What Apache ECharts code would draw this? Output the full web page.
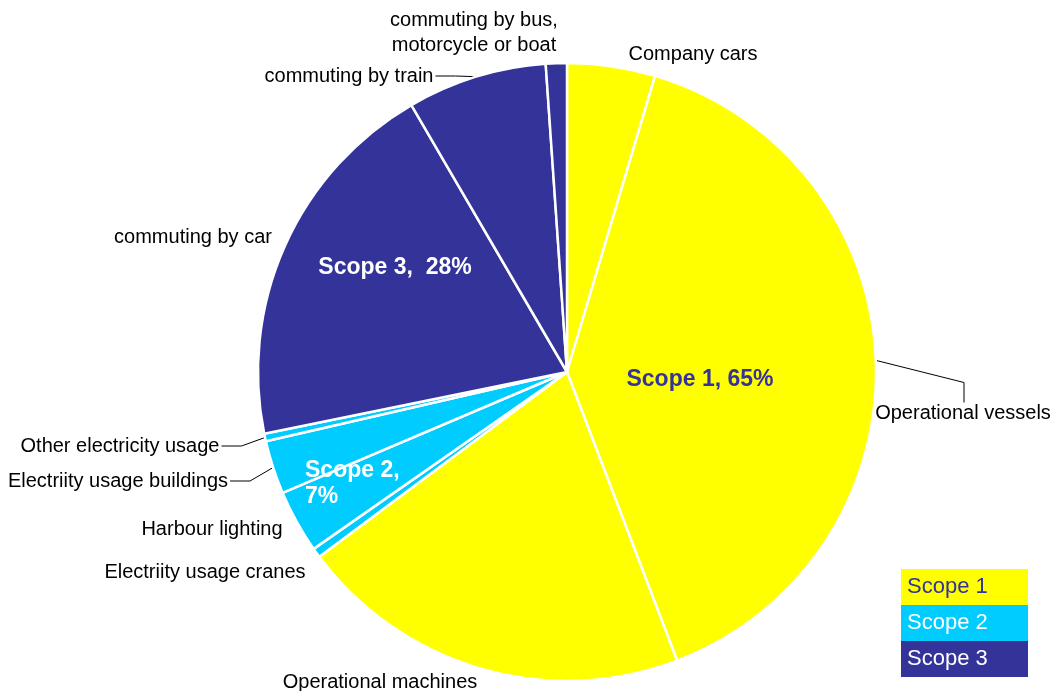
<!DOCTYPE html>
<html><head><meta charset="utf-8">
<script src="https://cdn.jsdelivr.net/npm/echarts@6/dist/echarts.min.js"></script>
<style>html,body{margin:0;padding:0;background:#fff}#c{width:1054px;height:691px}</style>
</head><body><div id="c"></div>
<script>
// ---- data ----
const categories = ['Company cars','Operational vessels','Operational machines','Electriity usage cranes','Harbour lighting','Electriity usage buildings','Other electricity usage','commuting by car','commuting by train','commuting by bus,\nmotorcycle or boat'];
const values = [4.6, 39.6, 20.6, 0.5, 3.3, 2.8, 0.4, 19.8, 7.3, 1.1];
const categoryScope = [0, 0, 0, 1, 1, 1, 1, 2, 2, 2];
const scopes = ['Scope 1', 'Scope 2', 'Scope 3'];

// ---- styles / layout ----
const scopeColors = ['#FFFF00', '#00CCFF', '#333399'];
const scopeTextColors = ['#333399', '#FFFFFF', '#FFFFFF'];
const scopeTotals = scopes.map((s, i) => values.reduce((a, v, j) => a + (categoryScope[j] === i ? v : 0), 0));
const FONT = "'Liberation Sans', Arial, sans-serif";
const catLabelPos = [[693,54],[963,413],[380,682],[205,572],[212,529],[118,481],[120,446],[193,237],[349,76],[474,33]];
const catLine = [null,'top',null,null,null,'right','right',null,'right',null];
const scopeLabelPos = [[700,380,'center'],[305,484,'left'],[395,268,'center']];
const scopeSep = [', ', ',\n', ',  '];

const chart = echarts.init(document.getElementById('c'), null, {renderer: 'canvas'});
chart.setOption({
  animation: false,
  backgroundColor: '#fff',
  series: [{
    type: 'pie',
    center: [567, 372],
    radius: 309,
    startAngle: 90,
    clockwise: true,
    avoidLabelOverlap: false,
    silent: true,
    itemStyle: {borderColor: '#fff', borderWidth: 2.5},
    label: {show: true, position: 'outside', color: '#000', fontSize: 20, fontFamily: FONT, lineHeight: 25},
    labelLine: {show: true, length: 10, length2: 20, lineStyle: {color: '#000', width: 1}},
    labelLayout: function (p) {
      const pos = catLabelPos[p.dataIndex];
      const res = {x: pos[0], y: pos[1], align: 'center', verticalAlign: 'middle'};
      const mode = catLine[p.dataIndex];
      if (mode && p.labelLinePoints) {
        const start = p.labelLinePoints[0];
        const w = p.labelRect.width, h = p.labelRect.height;
        if (mode === 'top') {
          const top = pos[1] - h / 2 + 2;
          res.labelLinePoints = [start, [pos[0] + 1, top - 20], [pos[0] + 1, top]];
        } else {
          const right = pos[0] + w / 2 + 2;
          res.labelLinePoints = [start, [right + 20, pos[1]], [right, pos[1]]];
        }
      }
      return res;
    },
    data: categories.map((n, i) => ({
      name: n, value: values[i],
      itemStyle: {color: scopeColors[categoryScope[i]]},
      labelLine: {show: !!catLine[i]}
    }))
  }, {
    type: 'pie',
    center: [567, 372],
    radius: 309,
    startAngle: 90,
    clockwise: true,
    avoidLabelOverlap: false,
    silent: true,
    itemStyle: {color: 'rgba(0,0,0,0)', borderWidth: 0},
    label: {show: true, position: 'inside', fontSize: 23, fontWeight: 'bold', fontFamily: FONT, lineHeight: 26,
      formatter: p => p.name + scopeSep[p.dataIndex] + Math.round(p.percent) + '%'},
    labelLine: {show: false},
    labelLayout: function (p) {
      const pos = scopeLabelPos[p.dataIndex];
      return {x: pos[0], y: pos[1], align: pos[2], verticalAlign: 'middle'};
    },
    data: scopes.map((s, i) => ({name: s, value: scopeTotals[i], label: {color: scopeTextColors[i]}}))
  }],
  graphic: scopes.map((s, i) => ({
    type: 'rect',
    left: 901, top: 569 + i * 36,
    shape: {width: 127, height: 36},
    style: {fill: scopeColors[i]},
    textContent: {style: {text: s, fill: scopeTextColors[i], font: '22px ' + FONT}},
    textConfig: {position: 'insideLeft', distance: 6}
  }))
});
</script>
</body></html>
